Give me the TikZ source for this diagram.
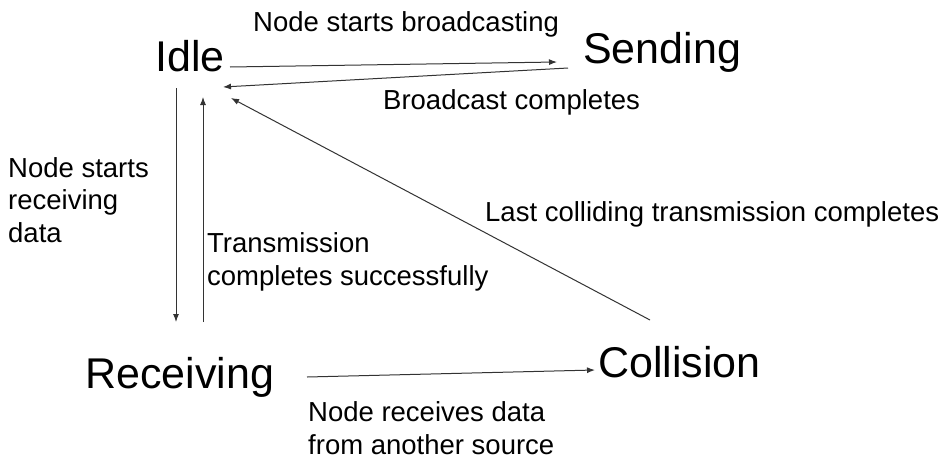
\documentclass[tikz,border=0pt]{standalone}
\usepackage{fontspec}
\setmainfont{Liberation Sans}
\usetikzlibrary{arrows.meta}
\begin{document}
\begin{tikzpicture}[x=1pt,y=-1pt,
  state/.style={inner sep=0pt,anchor=base west,font=\fontsize{43}{48}\selectfont},
  lbl/.style={inner sep=0pt,anchor=base west,align=left,font=\fontsize{27.5}{32.5}\selectfont},
  conn/.style={draw=black!80,line width=1pt,-{Latex[length=8pt,width=6pt]}}]
\path[use as bounding box,fill=white] (0,0) rectangle (952,461);
% states
\node[state] (idle) at (155,71) {Idle};
\node[state] (send) at (583,63) {Sending};
\node[state] (recv) at (85,388) {Receiving};
\node[state] (coll) at (598,377) {Collision};
% labels (base anchor = baseline of the last line)
\node[lbl] (l1) at (253,31) {Node starts broadcasting};
\node[lbl] (l2) at (383,109) {Broadcast completes};
\node[lbl] (l3) at (485,221) {Last colliding transmission completes};
\node[lbl] (l4) at (8,242) {Node starts\\receiving\\data};
\node[lbl] (l5) at (207,285) {Transmission\\completes successfully};
\node[lbl] (l6) at (308,454) {Node receives data\\from another source};
% connector end points
\coordinate (a1s) at (230,67); \coordinate (a1e) at (557,62);
\coordinate (a2s) at (568,68); \coordinate (a2e) at (223,87);
\coordinate (a3s) at (176,88); \coordinate (a3e) at (176,322);
\coordinate (a4s) at (203,322); \coordinate (a4e) at (203,97);
\coordinate (a5s) at (650,320); \coordinate (a5e) at (231,98);
\coordinate (a6s) at (307,377); \coordinate (a6e) at (595,370);
\draw[conn] (a1s) -- (a1e);
\draw[conn] (a2s) -- (a2e);
\draw[conn] (a3s) -- (a3e);
\draw[conn] (a4s) -- (a4e);
\draw[conn] (a5s) -- (a5e);
\draw[conn] (a6s) -- (a6e);
\end{tikzpicture}
\end{document}
